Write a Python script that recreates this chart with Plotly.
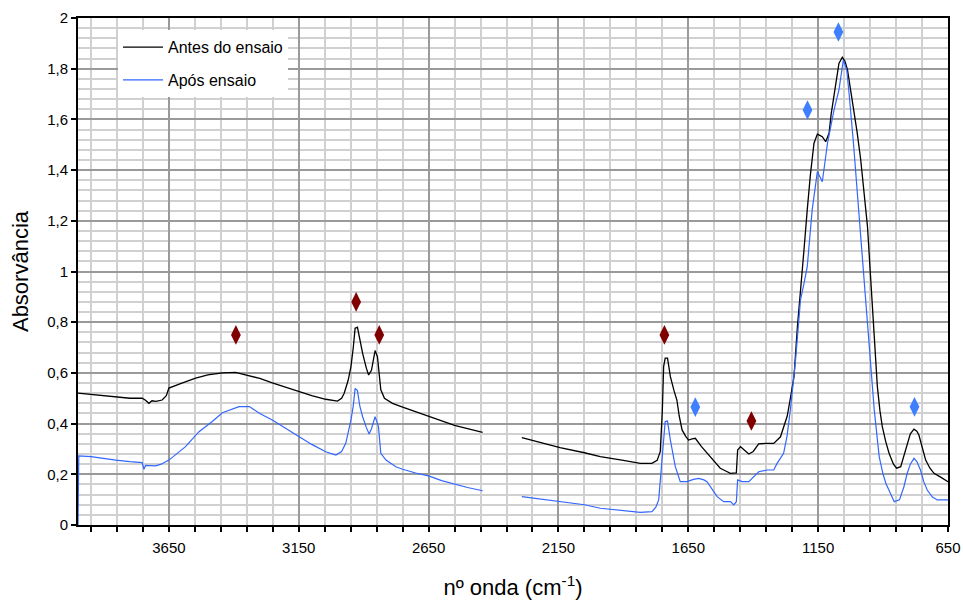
import plotly.graph_objects as go

# ---- data: "Antes do ensaio" (black) ----
antes_w_a = [4000, 3950, 3900, 3855, 3800, 3753, 3740, 3727, 3715, 3700, 3676, 3660, 3650, 3600, 3547,
             3500, 3444, 3393, 3354, 3300, 3252, 3200, 3149, 3100, 3046, 3001, 2985, 2975, 2960, 2949,
             2940, 2933, 2924, 2915, 2904, 2890, 2881, 2870, 2862, 2856, 2847, 2840, 2834, 2820, 2800,
             2789, 2750, 2700, 2647, 2600, 2550, 2500, 2442]
antes_v_a = [0.52, 0.515, 0.51, 0.506, 0.50, 0.50, 0.492, 0.48, 0.49, 0.488, 0.493, 0.51, 0.54, 0.56, 0.579,
             0.592, 0.60, 0.602, 0.592, 0.578, 0.561, 0.544, 0.526, 0.51, 0.496, 0.489, 0.50, 0.52, 0.57, 0.625,
             0.70, 0.776, 0.78, 0.73, 0.677, 0.62, 0.592, 0.61, 0.66, 0.688, 0.664, 0.60, 0.533, 0.50, 0.485,
             0.48, 0.465, 0.447, 0.427, 0.41, 0.393, 0.38, 0.365]
antes_w_b = [2291, 2200, 2144, 2050, 1989, 1900, 1835, 1790, 1770, 1758, 1750, 1745, 1739, 1730, 1719,
             1705, 1694, 1685, 1674, 1660, 1649, 1635, 1623, 1600, 1578, 1550, 1527, 1500, 1488, 1465,
             1460, 1449, 1430, 1417, 1400, 1379, 1350, 1321, 1295, 1283, 1269, 1257, 1243, 1230, 1218,
             1205, 1192, 1180, 1166, 1153, 1140, 1134, 1121, 1108, 1100, 1089, 1080, 1070, 1057, 1047,
             1037, 1025, 1012, 1000, 986, 973, 960, 950, 941, 932, 922, 912, 903, 890, 877,
             860, 848, 832, 820, 807, 795, 781, 770, 762, 750, 736, 720, 704, 680, 660, 650]
antes_v_b = [0.345, 0.32, 0.305, 0.285, 0.27, 0.255, 0.243, 0.243, 0.255, 0.289, 0.45, 0.625, 0.658, 0.658, 0.585,
             0.53, 0.493, 0.43, 0.375, 0.35, 0.335, 0.34, 0.342, 0.31, 0.283, 0.25, 0.224, 0.21, 0.204, 0.206,
             0.296, 0.309, 0.29, 0.28, 0.29, 0.32, 0.322, 0.322, 0.348, 0.388, 0.43, 0.5, 0.585, 0.78, 0.914,
             1.08, 1.243, 1.38, 1.506, 1.542, 1.535, 1.532, 1.512, 1.545, 1.62, 1.69, 1.76, 1.821, 1.845, 1.83,
             1.795, 1.72, 1.637, 1.55, 1.44, 1.31, 1.177, 1.01, 0.848, 0.70, 0.546, 0.45, 0.388, 0.33, 0.283,
             0.24, 0.224, 0.23, 0.27, 0.322, 0.36, 0.378, 0.37, 0.355, 0.31, 0.256, 0.225, 0.204, 0.19, 0.175, 0.171]

# ---- data: "Após ensaio" (blue) ----
apos_w_a = [4000, 3997, 3950, 3900, 3855, 3800, 3753, 3746, 3740, 3701, 3680, 3650, 3620, 3586, 3534,
            3483, 3444, 3400, 3380, 3340, 3300, 3252, 3200, 3149, 3100, 3046, 3007, 2985, 2969, 2949,
            2940, 2933, 2924, 2915, 2904, 2890, 2879, 2870, 2862, 2856, 2850, 2843, 2834, 2814, 2776,
            2750, 2700, 2647, 2600, 2550, 2500, 2442]
apos_v_a = [0.0, 0.273, 0.27, 0.262, 0.256, 0.25, 0.246, 0.22, 0.235, 0.233, 0.24, 0.256, 0.28, 0.309, 0.368,
            0.408, 0.443, 0.46, 0.467, 0.467, 0.44, 0.414, 0.38, 0.348, 0.318, 0.289, 0.276, 0.29, 0.322, 0.414,
            0.47, 0.539, 0.53, 0.47, 0.427, 0.385, 0.359, 0.38, 0.41, 0.427, 0.41, 0.388, 0.283, 0.256, 0.23,
            0.22, 0.205, 0.193, 0.175, 0.16, 0.148, 0.135]
apos_w_b = [2291, 2200, 2144, 2050, 1989, 1900, 1835, 1790, 1775, 1764, 1751, 1739, 1730, 1719, 1700,
            1681, 1655, 1630, 1610, 1590, 1578, 1560, 1539, 1514, 1488, 1475, 1465, 1460, 1443, 1417,
            1379, 1347, 1321, 1308, 1283, 1270, 1257, 1237, 1218, 1205, 1192, 1173, 1153, 1134, 1114,
            1089, 1070, 1053, 1040, 1031, 1014, 992, 976, 960, 947, 934, 915, 900, 889, 870,
            857, 837, 820, 807, 795, 781, 770, 756, 743, 730, 710, 691, 670, 650]
apos_v_b = [0.112, 0.1, 0.092, 0.08, 0.066, 0.058, 0.05, 0.053, 0.07, 0.099, 0.256, 0.408, 0.41, 0.335, 0.23,
            0.171, 0.171, 0.18, 0.184, 0.178, 0.171, 0.145, 0.112, 0.092, 0.092, 0.079, 0.092, 0.178, 0.171, 0.171,
            0.21, 0.217, 0.217, 0.243, 0.283, 0.35, 0.454, 0.651, 0.888, 0.95, 1.019, 1.243, 1.394, 1.354, 1.506,
            1.637, 1.716, 1.834, 1.795, 1.703, 1.506, 1.216, 1.0, 0.782, 0.61, 0.454, 0.27, 0.2, 0.164, 0.12,
            0.092, 0.099, 0.15, 0.204, 0.24, 0.263, 0.25, 0.217, 0.17, 0.138, 0.11, 0.099, 0.1, 0.099]

# ---- band markers ----
red_w = [3392, 2929, 2840, 1742, 1407]
red_v = [0.75, 0.88, 0.75, 0.75, 0.41]
blue_w = [1623, 1191, 1072, 779]
blue_v = [0.465, 1.637, 1.945, 0.466]

# ---- tick labels ----
y_vals = [0, 0.2, 0.4, 0.6, 0.8, 1.0, 1.2, 1.4, 1.6, 1.8, 2.0]
y_text = ["0", "0,2", "0,4", "0,6", "0,8", "1", "1,2", "1,4", "1,6", "1,8", "2"]
x_vals = [3650, 3150, 2650, 2150, 1650, 1150, 650]
x_text = ["3650", "3150", "2650", "2150", "1650", "1150", "650"]

BLACK = "#000000"
BLUE = "#3366FF"

fig = go.Figure()
fig.add_trace(go.Scatter(x=antes_w_a + [None] + antes_w_b, y=antes_v_a + [None] + antes_v_b,
                         mode="lines", name="Antes do ensaio", connectgaps=False, legendgroup="a",
                         line=dict(color=BLACK, width=1.3)))
fig.add_trace(go.Scatter(x=apos_w_a + [None] + apos_w_b, y=apos_v_a + [None] + apos_v_b,
                         mode="lines", name="Após ensaio", connectgaps=False, legendgroup="b",
                         line=dict(color=BLUE, width=1.2)))
fig.add_trace(go.Scatter(x=red_w, y=red_v, mode="markers", showlegend=False,
                         marker=dict(symbol="diamond-tall", size=14, color="#800000")))
fig.add_trace(go.Scatter(x=blue_w, y=blue_v, mode="markers", showlegend=False,
                         marker=dict(symbol="diamond-tall", size=14, color="#3F7FFF")))

font_family = "Liberation Sans, Arial, sans-serif"
fig.update_layout(
    width=963, height=600,
    margin=dict(l=78, r=15, t=18, b=75, autoexpand=False),
    paper_bgcolor="white", plot_bgcolor="white",
    font=dict(family=font_family, size=15, color="black"),
    showlegend=True,
    legend=dict(x=0.046, y=0.976, xanchor="left", yanchor="top",
                bgcolor="white", borderwidth=0, font=dict(size=16),
                traceorder="grouped", tracegroupgap=9, itemwidth=40),
    xaxis=dict(range=[4000, 650], tickmode="array", tickvals=x_vals, ticktext=x_text,
               automargin=True, ticklabelstandoff=3,
               ticks="outside", ticklen=5, tickcolor="black", tickwidth=1.5,
               showgrid=True, gridcolor="#9a9a9a", gridwidth=1.5,
               minor=dict(dtick=100, tick0=650, ticks="outside", ticklen=5, tickcolor="black",
                          tickwidth=1.5, showgrid=True, gridcolor="#d0d0d0", gridwidth=1.5),
               showline=True, linecolor="black", linewidth=2, mirror=True,
               zeroline=False, tickfont=dict(size=15),
               title=dict(text="nº onda (cm<sup>-1</sup>)", font=dict(size=22), standoff=28)),
    yaxis=dict(range=[0, 2], tickmode="array", tickvals=y_vals, ticktext=y_text,
               automargin=True,
               ticks="outside", ticklen=5, tickcolor="black", tickwidth=1.5,
               showgrid=True, gridcolor="#9a9a9a", gridwidth=1.5,
               minor=dict(dtick=0.04, tick0=0, ticks="", showgrid=True,
                          gridcolor="#d0d0d0", gridwidth=1.5),
               showline=True, linecolor="black", linewidth=2, mirror=True,
               zeroline=False, tickfont=dict(size=15),
               title=dict(text="Absorvância", font=dict(size=22), standoff=12)),
)

fig.write_html("out.html")
